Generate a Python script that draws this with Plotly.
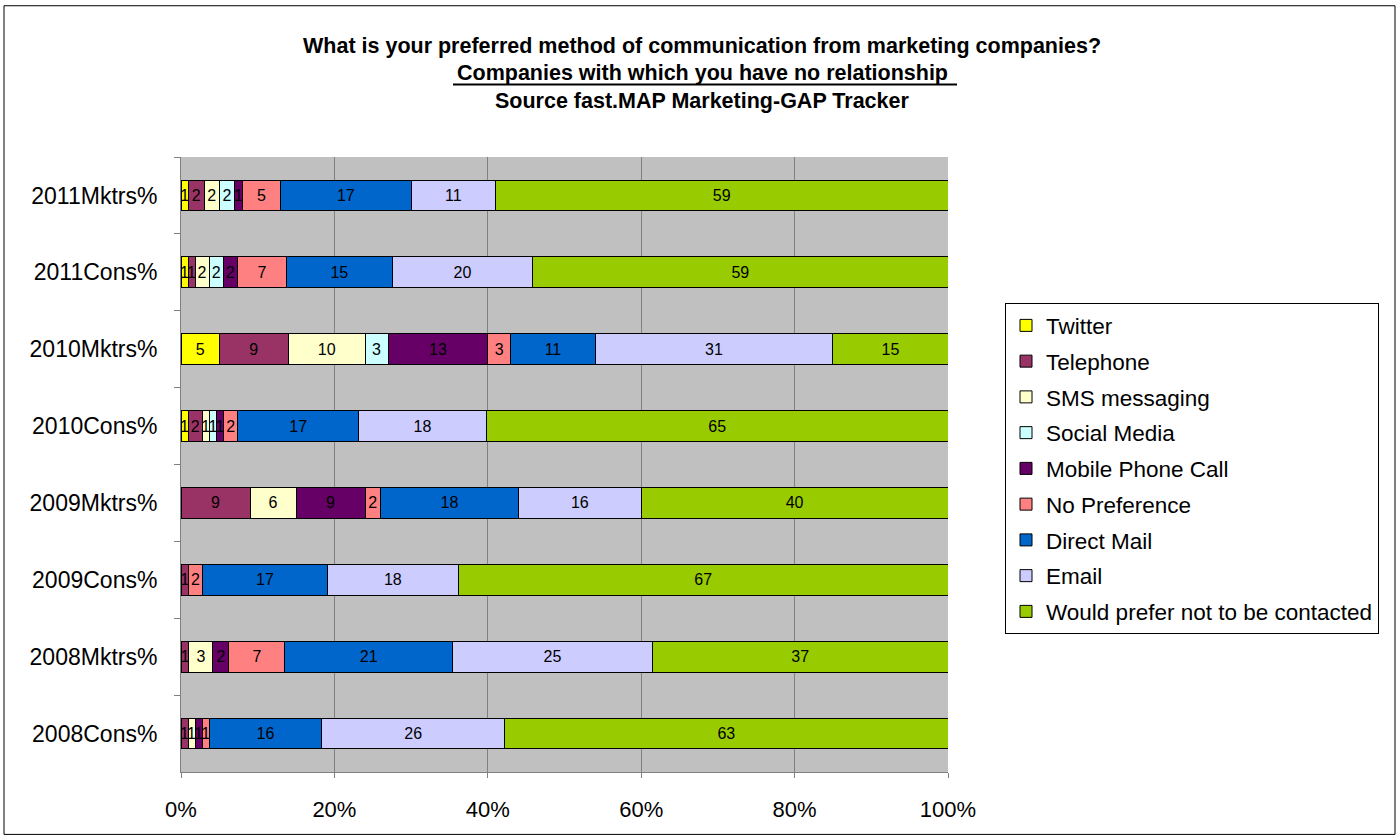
import plotly.graph_objects as go

# Survey rows (top to bottom as displayed)
rows = ["2011Mktrs%", "2011Cons%", "2010Mktrs%", "2010Cons%",
        "2009Mktrs%", "2009Cons%", "2008Mktrs%", "2008Cons%"]

# Share of respondents per preferred channel (None = not asked that year)
twitter = [1, 1, 5, 1, None, None, None, None]
telephone = [2, 1, 9, 2, 9, 1, 1, 1]
sms = [2, 2, 10, 1, 6, 0, 3, 1]
social_media = [2, 2, 3, 1, None, None, None, None]
mobile_call = [1, 2, 13, 1, 9, None, 2, 1]
no_preference = [5, 7, 3, 2, 2, 2, 7, 1]
direct_mail = [17, 15, 11, 17, 18, 17, 21, 16]
email = [11, 20, 31, 18, 16, 18, 25, 26]
not_contacted = [59, 59, 15, 65, 40, 67, 37, 63]

series = [
    ("Twitter", twitter, "#FFFF00"),
    ("Telephone", telephone, "#993366"),
    ("SMS messaging", sms, "#FFFFCC"),
    ("Social Media", social_media, "#CCFFFF"),
    ("Mobile Phone Call", mobile_call, "#660066"),
    ("No Preference", no_preference, "#FF8080"),
    ("Direct Mail", direct_mail, "#0066CC"),
    ("Email", email, "#CCCCFF"),
    ("Would prefer not to be contacted", not_contacted, "#99CC00"),
]

W, H = 1400, 840
L, R, T, B = 181, 452, 156.5, 67.5
PW, PH = W - L - R, H - T - B


def px_x(p):
    return (p - L) / PW


def px_y(p):
    return (H - B - p) / PH


FONT = "Arial, Liberation Sans, sans-serif"

fig = go.Figure()
for i, (name, vals, color) in enumerate(series):
    fig.add_trace(go.Bar(
        name=name,
        y=rows,
        x=vals,
        orientation="h",
        marker=dict(color=color, line=dict(color="black", width=1)),
        text=[("" if v is None else str(v)) for v in vals],
        textposition="inside",
        insidetextanchor="middle",
        textfont=dict(color="black", size=16, family=FONT),
        legendgroup=f"g{i}",
        hoverinfo="name+x",
    ))

fig.update_layout(
    width=W, height=H,
    barmode="stack",
    barnorm="percent",
    bargap=0.6,
    paper_bgcolor="white",
    plot_bgcolor="#C0C0C0",
    margin=dict(l=L, r=R, t=T, b=B, autoexpand=False),
    font=dict(family=FONT, size=22, color="black"),
    uniformtext=dict(minsize=16, mode="show"),
    legend=dict(
        x=px_x(1005), y=px_y(303), xanchor="left", yanchor="top",
        bgcolor="white", bordercolor="black", borderwidth=1,
        font=dict(size=22.5, family=FONT),
        traceorder="grouped", tracegroupgap=3.5,
    ),
    showlegend=True,
)

fig.update_xaxes(
    range=[0, 100], dtick=20, ticksuffix="%",
    showgrid=True, gridcolor="#808080", gridwidth=1,
    showline=True, linecolor="#808080", linewidth=1,
    ticks="outside", ticklen=5, tickcolor="#808080",
    ticklabelstandoff=13, zeroline=False,
    tickfont=dict(size=22),
)
fig.update_yaxes(
    categoryorder="array", categoryarray=rows, autorange="reversed",
    showline=True, linecolor="#808080", linewidth=1,
    ticks="outside", ticklen=6, tickcolor="#808080", tickson="boundaries",
    ticklabelstandoff=18, showgrid=False,
    tickfont=dict(size=23),
)

# Three-line bold heading
title_lines = [
    ("What is your preferred method of communication from marketing companies?", 45),
    ("Companies with which you have no relationship", 72),
    ("Source fast.MAP Marketing-GAP Tracker", 100),
]
for text, ypx in title_lines:
    fig.add_annotation(
        text=f"<b>{text}</b>", xref="paper", yref="paper",
        x=px_x(702), y=px_y(ypx), xanchor="center", yanchor="middle",
        showarrow=False, font=dict(size=21.5, family=FONT, color="black"),
    )

# Underline for the subtitle line, and the frame around the whole chart
fig.add_shape(type="line", xref="paper", yref="paper",
              x0=px_x(453), x1=px_x(957), y0=px_y(84), y1=px_y(84),
              line=dict(color="black", width=2))
fig.add_shape(type="rect", xref="paper", yref="paper",
              x0=px_x(4), x1=px_x(1395), y0=px_y(5), y1=px_y(835),
              line=dict(color="black", width=1), layer="below")

fig.write_html("out.html")
